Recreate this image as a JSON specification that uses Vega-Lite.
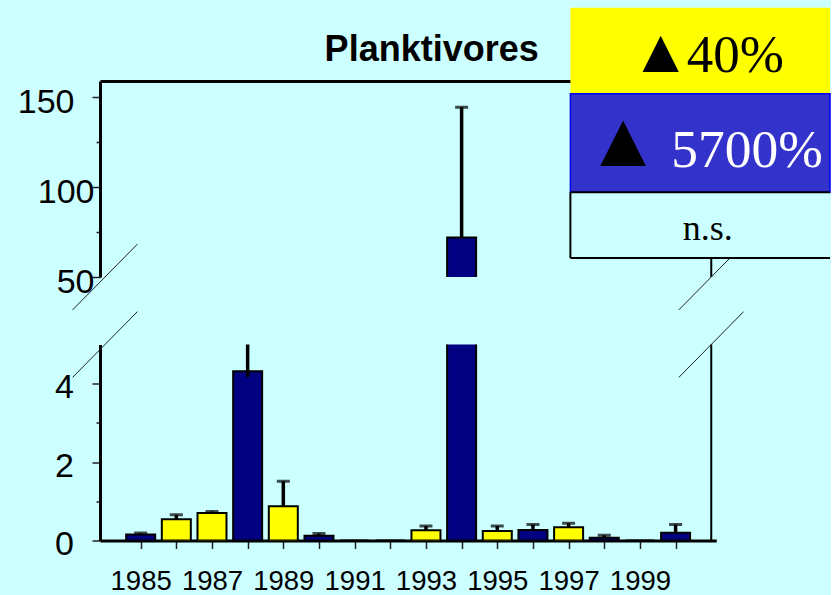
{
  "$schema": "https://vega.github.io/schema/vega-lite/v6.json",
  "background": "#CCFFFF",
  "padding": {"left": 17, "top": 7, "right": 0, "bottom": 0},
  "bounds": "flush",
  "spacing": 67.5,
  "datasets": {
    "bars": [
      {"year": 1985, "value": 0.15, "lo": 0.15, "hi": 0.19, "series": "▲5700%"},
      {"year": 1986, "value": 0.54, "lo": 0.54, "hi": 0.66, "series": "▲40%"},
      {"year": 1987, "value": 0.70, "lo": 0.70, "hi": 0.74, "series": "▲40%"},
      {"year": 1988, "value": 4.32, "lo": 4.17, "hi": 5.6, "series": "▲5700%"},
      {"year": 1989, "value": 0.875, "lo": 0.875, "hi": 1.51, "series": "▲40%"},
      {"year": 1990, "value": 0.12, "lo": 0.12, "hi": 0.18, "series": "▲5700%"},
      {"year": 1991, "value": 0, "series": "▲5700%"},
      {"year": 1992, "value": 0, "series": "▲5700%"},
      {"year": 1993, "value": 0.26, "lo": 0.26, "hi": 0.37, "series": "▲40%"},
      {"year": 1994, "value": 71.9, "lo": 71.9, "hi": 144.4, "series": "▲5700%"},
      {"year": 1995, "value": 0.24, "lo": 0.24, "hi": 0.37, "series": "▲40%"},
      {"year": 1996, "value": 0.27, "lo": 0.27, "hi": 0.41, "series": "▲5700%"},
      {"year": 1997, "value": 0.34, "lo": 0.34, "hi": 0.44, "series": "▲40%"},
      {"year": 1998, "value": 0.07, "lo": 0.07, "hi": 0.135, "series": "▲5700%"},
      {"year": 1999, "value": 0, "series": "▲5700%"},
      {"year": 2000, "value": 0.20, "lo": 0.20, "hi": 0.41, "series": "▲5700%"}
    ],
    "one": [{}]
  },
  "config": {
    "view": {"stroke": null},
    "axis": {"labelFont": "Liberation Sans", "labelColor": "black", "domainColor": "black", "tickColor": "#222", "grid": false, "title": null}
  },
  "vconcat": [
    {
      "width": 616.25,
      "height": 196,
      "layer": [
        {
          "data": {"name": "bars"},
          "mark": {"type": "bar", "size": 29, "stroke": "black", "strokeWidth": 2, "clip": true},
          "encoding": {
            "x": {"field": "year", "type": "quantitative", "scale": {"domain": [1984, 2001], "nice": false, "zero": false},
                  "axis": {"orient": "top", "labels": false, "ticks": false, "domain": true, "domainWidth": 3, "title": null}},
            "y": {"field": "value", "type": "quantitative", "scale": {"domain": [50, 159], "nice": false, "zero": false},
                  "axis": {"values": [50, 75, 100, 125, 150], "labelExpr": "datum.value % 50 == 0 ? datum.label : ''",
                           "tickSize": {"condition": {"test": "datum.value % 50 == 0", "value": 8}, "value": 4},
                           "labelPadding": {"condition": {"test": "datum.value == 150", "value": 18}, "value": -2},
                           "labelFontSize": 34, "labelOffset": 5, "domainWidth": 3, "tickWidth": 1.5, "labelOverlap": false, "labelFlush": false, "title": null}},
            "y2": {"datum": 0},
            "color": {"field": "series", "type": "nominal", "scale": {"domain": ["▲40%", "▲5700%"], "range": ["#FFFF00", "#000080"]}, "legend": null}
          }
        },
        {
          "data": {"name": "bars"},
          "mark": {"type": "rule", "strokeWidth": 3.5, "color": "black", "clip": true},
          "encoding": {
            "x": {"field": "year", "type": "quantitative"},
            "y": {"field": "lo", "type": "quantitative"},
            "y2": {"field": "hi"}
          }
        },
        {
          "data": {"name": "bars"},
          "mark": {"type": "tick", "orient": "horizontal", "size": 13, "thickness": 3, "color": "black", "clip": true},
          "encoding": {
            "x": {"field": "year", "type": "quantitative"},
            "y": {"field": "hi", "type": "quantitative"}
          }
        },
        {
          "data": {"name": "one"},
          "mark": {"type": "rule", "color": "black", "strokeWidth": 2},
          "encoding": {"x": {"datum": 2001}}
        },
        {
          "data": {"name": "one"},
          "mark": {"type": "rule", "color": "#222", "strokeWidth": 1, "clip": false},
          "encoding": {"x": {"datum": 1983.09}, "x2": {"datum": 1984.91}, "y": {"datum": 31.7}, "y2": {"datum": 68.3}}
        },
        {
          "data": {"name": "one"},
          "mark": {"type": "rule", "color": "#222", "strokeWidth": 1, "clip": false},
          "encoding": {"x": {"datum": 2000.09}, "x2": {"datum": 2001.91}, "y": {"datum": 31.7}, "y2": {"datum": 68.3}}
        },
        {
          "data": {"values": [{"label": "Planktivores"}]},
          "mark": {"type": "text", "font": "Liberation Sans", "fontSize": 36, "fontWeight": "bold", "color": "black", "baseline": "alphabetic", "align": "center", "clip": false},
          "encoding": {"text": {"field": "label"}, "x": {"datum": 1993.16}, "y": {"datum": 170.4}}
        },
        {
          "data": {"name": "one"},
          "mark": {"type": "rect", "fill": "#FFFF00", "clip": false},
          "encoding": {"x": {"datum": 1997.05}, "x2": {"datum": 2004.33}, "y": {"datum": 199.7}, "y2": {"datum": 151.9}}
        },
        {
          "data": {"name": "one"},
          "mark": {"type": "rect", "fill": "#3333CC", "stroke": "#0000FF", "strokeWidth": 1.5, "clip": false},
          "encoding": {"x": {"datum": 1997.05}, "x2": {"datum": 2004.33}, "y": {"datum": 151.9}, "y2": {"datum": 97.2}}
        },
        {
          "data": {"name": "one"},
          "mark": {"type": "rect", "fill": "#CCFFFF", "clip": false},
          "encoding": {"x": {"datum": 1997.05}, "x2": {"datum": 2004.33}, "y": {"datum": 97.2}, "y2": {"datum": 60.6}}
        },
        {
          "data": {"name": "one"},
          "mark": {"type": "rule", "color": "black", "strokeWidth": 2, "clip": false},
          "encoding": {"x": {"datum": 1997.05}, "x2": {"datum": 2004.33}, "y": {"datum": 97.2}}
        },
        {
          "data": {"name": "one"},
          "mark": {"type": "rule", "color": "black", "strokeWidth": 2, "clip": false},
          "encoding": {"x": {"datum": 1997.05}, "x2": {"datum": 2004.33}, "y": {"datum": 60.6}}
        },
        {
          "data": {"name": "one"},
          "mark": {"type": "rule", "color": "black", "strokeWidth": 2, "clip": false},
          "encoding": {"x": {"datum": 1997.05}, "y": {"datum": 97.2}, "y2": {"datum": 60.6}}
        },
        {
          "data": {"values": [{"label": "▲"}]},
          "mark": {"type": "text", "font": "Liberation Serif", "fontSize": 62, "color": "black", "baseline": "alphabetic", "align": "center", "clip": false},
          "encoding": {"text": {"field": "label"}, "x": {"datum": 1999.58}, "y": {"datum": 164.2}}
        },
        {
          "data": {"values": [{"label": "40%"}]},
          "mark": {"type": "text", "font": "Liberation Serif", "fontSize": 53, "color": "black", "baseline": "alphabetic", "align": "left", "clip": false},
          "encoding": {"text": {"field": "label"}, "x": {"datum": 2000.31}, "y": {"datum": 164.2}}
        },
        {
          "data": {"values": [{"label": "▲"}]},
          "mark": {"type": "text", "font": "Liberation Serif", "fontSize": 78, "color": "black", "baseline": "alphabetic", "align": "center", "clip": false},
          "encoding": {"text": {"field": "label"}, "x": {"datum": 1998.53}, "y": {"datum": 111.5}}
        },
        {
          "data": {"values": [{"label": "5700%"}]},
          "mark": {"type": "text", "font": "Liberation Serif", "fontSize": 53.5, "color": "white", "baseline": "alphabetic", "align": "left", "clip": false},
          "encoding": {"text": {"field": "label"}, "x": {"datum": 1999.88}, "y": {"datum": 111.2}}
        },
        {
          "data": {"values": [{"label": "n.s."}]},
          "mark": {"type": "text", "font": "Liberation Serif", "fontSize": 36, "color": "black", "baseline": "alphabetic", "align": "center", "clip": false},
          "encoding": {"text": {"field": "label"}, "x": {"datum": 2000.9}, "y": {"datum": 70.8}}
        }
      ]
    },
    {
      "width": 616.25,
      "height": 196,
      "layer": [
        {
          "data": {"name": "bars"},
          "mark": {"type": "bar", "size": 29, "stroke": "black", "strokeWidth": 2, "clip": true},
          "encoding": {
            "x": {"field": "year", "type": "quantitative", "scale": {"domain": [1984, 2001], "nice": false, "zero": false},
                  "axis": {"orient": "bottom", "values": [1985, 1986, 1987, 1988, 1989, 1990, 1991, 1992, 1993, 1994, 1995, 1996, 1997, 1998, 1999, 2000],
                           "format": "d", "labelExpr": "datum.value % 2 == 1 ? datum.label : ''",
                           "tickSize": 8, "tickWidth": 1.5, "domainWidth": 3,
                           "labelFont": "Liberation Sans", "labelFontSize": 27.5,
                           "labelBaseline": "alphabetic", "labelPadding": 40.5, "labelOverlap": false, "labelFlush": false, "labelBound": false, "title": null}},
            "y": {"field": "value", "type": "quantitative", "scale": {"domain": [0, 5], "nice": false, "zero": false},
                  "axis": {"values": [0, 1, 2, 3, 4], "labelExpr": "datum.value % 2 == 0 ? datum.label : ''",
                           "tickSize": {"condition": {"test": "datum.value % 2 == 0", "value": 8}, "value": 4},
                           "labelPadding": 18.5, "labelFontSize": 34, "labelOffset": 4, "domainWidth": 3, "tickWidth": 1.5,
                           "labelOverlap": false, "labelFlush": false, "title": null}},
            "y2": {"datum": 0},
            "color": {"field": "series", "type": "nominal", "scale": {"domain": ["▲40%", "▲5700%"], "range": ["#FFFF00", "#000080"]}, "legend": null}
          }
        },
        {
          "data": {"name": "bars"},
          "mark": {"type": "rule", "strokeWidth": 3.5, "color": "black", "clip": true},
          "encoding": {
            "x": {"field": "year", "type": "quantitative"},
            "y": {"field": "lo", "type": "quantitative"},
            "y2": {"field": "hi"}
          }
        },
        {
          "data": {"name": "bars"},
          "mark": {"type": "tick", "orient": "horizontal", "size": 13, "thickness": 3, "color": "black", "clip": true},
          "encoding": {
            "x": {"field": "year", "type": "quantitative"},
            "y": {"field": "hi", "type": "quantitative"}
          }
        },
        {
          "data": {"name": "one"},
          "mark": {"type": "rule", "color": "black", "strokeWidth": 2},
          "encoding": {"x": {"datum": 2001}}
        },
        {
          "data": {"name": "one"},
          "mark": {"type": "rule", "color": "#222", "strokeWidth": 1, "clip": false},
          "encoding": {"x": {"datum": 1983.09}, "x2": {"datum": 1984.91}, "y": {"datum": 4.16}, "y2": {"datum": 5.84}}
        },
        {
          "data": {"name": "one"},
          "mark": {"type": "rule", "color": "#222", "strokeWidth": 1, "clip": false},
          "encoding": {"x": {"datum": 2000.09}, "x2": {"datum": 2001.91}, "y": {"datum": 4.16}, "y2": {"datum": 5.84}}
        }
      ]
    }
  ]
}
